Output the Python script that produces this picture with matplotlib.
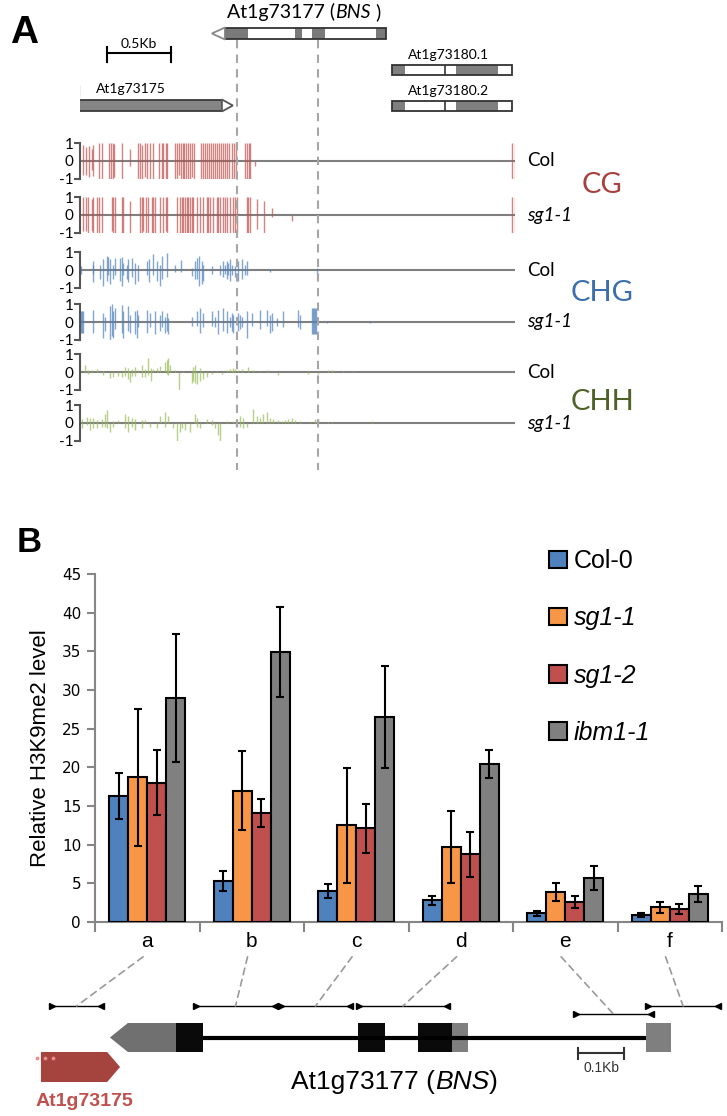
import matplotlib
matplotlib.use("Agg")
import matplotlib.pyplot as plt
from matplotlib.patches import Rectangle, Polygon, Patch, ConnectionPatch

W, H = 727, 1116

# ---------------- panel A : gene models (bp) ----------------
bns_span = (1133, 2391)
bns_tip = 1031
bns_dark = [(1133, 1313), (1680, 1734), (1813, 1914), (2313, 2391)]
g175_span = (-8, 1109)
g175_tip = 1195
g180_span = (2438, 3375)
g180_dark = [(2438, 2539), (2938, 3266)]
g180_mark = (2844, 2859)
g180_names = ["At1g73180.1", "At1g73180.2"]
dashed_bp = [1227, 1859]
scale_a = (211, 711)

# ---------------- panel A : methylation tracks ----------------
cg_col_pos = [26, 47, 68, 91, 104, 151, 169, 229, 242, 255, 268, 326, 391, 456, 469, 487, 508, 526, 547, 568,
	620, 638, 651, 672, 682, 742, 755, 771, 786, 802, 813, 828, 844, 859, 875, 891, 943, 958, 974, 990,
	1005, 1021, 1036, 1052, 1068, 1083, 1099, 1115, 1130, 1146, 1167, 1185, 1203, 1219, 1289, 1302, 1318, 1328, 1367,
	3380, 3398]
cg_col_up = [0.9, 0.8, 0.85, 0.7, 0.9, 1, 1, 1, 1, 1, 0.95, 1, 0.7, 1, 1, 0.9, 1, 1, 1, 1,
	1, 1, 1, 1, 1, 1, 1, 1, 1, 1, 1, 1, 1, 1, 1, 1, 1, 1, 1, 1,
	1, 1, 1, 1, 1, 1, 1, 1, 1, 1, 1, 1, 1, 1, 1, 1, 1, 1, 0.0,
	1, 1]
cg_col_dn = [0.8, 0.8, 0.9, 0.5, 0.85, 1, 1, 1, 1, 1, 0.9, 1, 0.3, 1, 1, 1, 0.9, 1, 1, 1,
	1, 1, 1, 1, 1, 1, 1, 0.8, 1, 1, 1, 1, 1, 1, 0.9, 1, 1, 1, 1, 1,
	1, 1, 1, 1, 1, 1, 1, 1, 1, 1, 1, 1, 1, 1, 1, 1, 1, 1, 0.3,
	1, 1]

cg_sg_pos = [26, 47, 65, 91, 104, 130, 151, 169, 248, 261, 274, 326, 339, 391, 469, 482, 495, 516, 534, 560,
	573, 586, 625, 651, 672, 682, 755, 781, 794, 807, 820, 833, 846, 859, 872, 885, 911, 937, 963, 990,
	1003, 1016, 1042, 1068, 1081, 1094, 1120, 1133, 1146, 1172, 1198, 1211, 1224, 1302, 1315, 1328, 1380, 1438, 1497, 1659,
	3380, 3398]
cg_sg_up = [1, 1, 1, 0.9, 1, 1, 1, 1, 1, 1, 1, 1, 1, 0.8, 1, 1, 1, 1, 1, 1,
	1, 1, 1, 1, 1, 1, 1, 1, 1, 1, 1, 1, 1, 1, 1, 1, 1, 1, 1, 1,
	1, 1, 1, 1, 1, 1, 1, 1, 1, 1, 1, 1, 1, 1, 1, 1, 0.9, 0.8, 0.4, 0.0,
	1, 1]
cg_sg_dn = [0.9, 0.9, 1, 0.9, 1, 1, 1, 1, 0.9, 1, 1, 1, 1, 1, 1, 1, 0.9, 1, 1, 1,
	1, 1, 1, 1, 0.9, 1, 1, 1, 1, 1, 1, 1, 1, 1, 1, 1, 1, 1, 1, 1,
	1, 1, 1, 1, 1, 1, 1, 1, 1, 1, 1, 1, 1, 1, 1, 1, 0.8, 1, 0.1, 0.35,
	1, 1]

chg_col_pos = [5, 99, 104, 156, 177, 208, 221, 234, 255, 273, 313, 326, 339, 365, 378, 404, 430, 456, 526, 542,
	573, 599, 625, 638, 677, 742, 786, 872, 898, 911, 932, 950, 964, 1029, 1094, 1120, 1133, 1146, 1159, 1172,
	1185, 1211, 1237, 1263, 1289, 1302, 1484, 1849]
chg_col_up = [0.2, 0.3, 0.5, 0.3, 0.6, 0.8, 0.75, 0.6, 0.3, 0.7, 0.7, 0.75, 0.4, 0.3, 0.6, 0.7, 0.4, 0.3, 0.5, 0.6,
	0.9, 0.5, 0.3, 0.8, 0.95, 0.3, 0.55, 0.1, 0.5, 0.7, 0.8, 0.5, 0.3, 0.2, 0.3, 0.5, 0.3, 0.5, 0.4, 0.6,
	0.3, 0.2, 0.5, 0.6, 0.3, 0.5, 0.05, 0.1]
chg_col_dn = [0.2, 0.7, 0.2, 0.5, 0.9, 0.6, 0.3, 0.8, 0.5, 0.3, 0.6, 0.9, 0.3, 0.5, 0.7, 0.4, 0.8, 0.6, 0.3, 0.7,
	0.3, 0.6, 0.9, 0.5, 0.4, 0.1, 0.1, 0.35, 0.5, 0.5, 0.9, 0.8, 0.6, 0.2, 0.3, 0.4, 0.2, 0.5, 0.3, 0.6,
	0.3, 0.4, 0.6, 0.5, 0.3, 0.3, 0.1, 0.2]

chg_sg_pos = [0, 8, 16, 24, 104, 177, 195, 234, 247, 260, 273, 326, 339, 378, 391, 430, 443, 456, 526, 547,
	586, 625, 638, 664, 677, 690, 872, 911, 937, 964, 1029, 1055, 1081, 1120, 1146, 1172, 1185, 1198, 1237, 1250,
	1263, 1302, 1341, 1406, 1458, 1484, 1497, 1536, 1588, 1706, 1719, 1810, 1818, 1826, 1833, 1841, 1927, 2266]
chg_sg_up = [0.6, 0.6, 0.6, 0.6, 0.7, 0.5, 0.3, 0.9, 1.0, 0.6, 0.8, 0.95, 0.6, 0.9, 0.4, 0.6, 0.7, 0.4, 0.7, 0.5,
	0.6, 0.4, 0.6, 0.3, 0.5, 0.2, 0.3, 0.6, 0.8, 0.5, 0.6, 0.3, 0.7, 0.8, 0.6, 0.3, 0.5, 0.4, 0.5, 0.4,
	0.3, 0.6, 0.5, 0.7, 0.7, 0.4, 0.5, 0.2, 0.6, 0.7, 0.4, 0.8, 0.8, 0.8, 0.8, 0.8, 0.05, 0.05]
chg_sg_dn = [0.6, 0.6, 0.6, 0.6, 0.6, 0.9, 0.5, 1.0, 0.8, 0.9, 0.4, 0.6, 0.9, 0.5, 0.6, 0.7, 0.9, 0.3, 0.6, 0.3,
	0.7, 0.5, 0.3, 0.6, 0.5, 0.7, 0.2, 0.2, 0.6, 0.3, 0.2, 0.3, 0.7, 0.5, 0.6, 0.3, 0.5, 0.6, 0.5, 0.4,
	0.3, 0.9, 0.2, 0.4, 0.2, 0.6, 0.5, 0.2, 0.3, 0.3, 0.4, 0.7, 0.7, 0.7, 0.7, 0.7, 0.05, 0.05]

chh_col_pos = [39, 65, 91, 130, 182, 234, 260, 299, 326, 352, 378, 391, 404, 430, 456, 482, 508, 534, 552, 573,
	599, 625, 664, 677, 690, 703, 742, 776, 807, 872, 885, 898, 911, 937, 964, 990, 1029, 1068, 1107, 1146,
	1172, 1185, 1198, 1211, 1237, 1263, 1315, 1354, 1406, 1458, 1550, 1784, 1862, 1940, 1966, 2057, 2136]
chh_col_up = [0.4, 0.1, 0.1, 0.15, 0.05, 0, 0, 0, 0, 0.3, 0.2, 0, 0.15, 0.3, 0.1, 0.4, 0.15, 0.8, 0.2, 0.15,
	0.25, 0.35, 0.55, 0.7, 0.8, 0.4, 0.1, 0, 0.05, 0, 0.3, 0.4, 0, 0.2, 0, 0, 0, 0.05, 0, 0.1,
	0.15, 0.05, 0.2, 0.15, 0.1, 0.15, 0.3, 0.1, 0.05, 0.1, 0, 0.05, 0, 0.1, 0.1, 0.05, 0.05]
chh_col_dn = [0, 0.1, 0, 0, 0.15, 0.35, 0.3, 0.2, 0.3, 0.2, 0.4, 0.55, 0.25, 0.2, 0, 0.3, 0.3, 0.15, 0.5, 0,
	0, 0, 0, 0.1, 0.15, 0, 0, 1.0, 0, 0.6, 0.5, 0.6, 0.7, 0.5, 0.4, 0.3, 0.1, 0, 0.1, 0,
	0, 0, 0, 0, 0, 0, 0, 0, 0, 0, 0.15, 0.1, 0.1, 0, 0, 0, 0]

chh_sg_pos = [13, 52, 78, 104, 130, 169, 195, 214, 234, 260, 299, 352, 378, 404, 430, 482, 508, 547, 599, 625,
	664, 690, 729, 755, 781, 794, 820, 859, 898, 911, 937, 990, 1029, 1055, 1081, 1094, 1146, 1198, 1250, 1276,
	1302, 1354, 1380, 1406, 1432, 1458, 1484, 1510, 1550, 1576, 1602, 1628, 1654, 1680, 1719, 1797, 1836, 1862, 1940, 1966,
	2279]
chh_sg_up = [0.2, 0.35, 0.3, 0.3, 0.15, 0.2, 0.5, 0.75, 0, 0.1, 0.15, 0.5, 0.4, 0.3, 0.2, 0.15, 0.15, 0, 0, 0.4,
	0.6, 0.4, 0, 0, 0, 0, 0, 0, 0.5, 0.3, 0, 0.2, 0.15, 0, 0, 0, 0.1, 0.1, 0.4, 0.3,
	0, 0.8, 0.4, 0.3, 0.5, 0.6, 0.3, 0.2, 0.15, 0.1, 0.15, 0.2, 0.3, 0.15, 0.1, 0.05, 0.2, 0.25, 0.05, 0.05,
	0.1]
chh_sg_dn = [0.3, 0.1, 0.4, 0.3, 0.3, 0.2, 0.2, 0.3, 0.5, 0.2, 0, 0.3, 0.5, 0.2, 0.4, 0.3, 0, 0.2, 0.3, 0,
	0.2, 0, 0.3, 1.0, 0.5, 0.3, 0.4, 0.5, 0, 0.2, 0.3, 0, 0.1, 0.3, 0.7, 1.0, 0, 0, 0.2, 0.3,
	0.2, 0, 0, 0, 0, 0, 0, 0, 0, 0, 0, 0, 0, 0, 0, 0, 0, 0, 0, 0,
	0]

track_names = ["Col", "sg1-1", "Col", "sg1-1", "Col", "sg1-1"]
contexts = ["CG", "CHG", "CHH"]

# ---------------- panel B : ChIP bars ----------------
regions = ["a", "b", "c", "d", "e", "f"]
genotypes = ["Col-0", "sg1-1", "sg1-2", "ibm1-1"]
col0 = [16.3, 5.3, 4.0, 2.8, 1.1, 0.9]
col0_err = [3.0, 1.3, 0.95, 0.55, 0.3, 0.2]
sg11 = [18.7, 17.0, 12.5, 9.7, 3.9, 1.9]
sg11_err = [8.9, 5.05, 7.4, 4.7, 1.15, 0.7]
sg12 = [18.0, 14.1, 12.1, 8.75, 2.55, 1.65]
sg12_err = [4.2, 1.85, 3.2, 2.9, 0.8, 0.63]
ibm11 = [29.0, 34.9, 26.5, 20.4, 5.7, 3.6]
ibm11_err = [8.3, 5.8, 6.6, 1.8, 1.5, 1.05]

# ---------------- panel B : BNS gene model (bp) ----------------
utr5 = (239, 278, 383)
exons = [(383, 441), (778, 837), (909, 983)]
utr_boxes = [(983, 1017), (1404, 1459)]
intron_span = (441, 1404)
g175_b = (89, 233, 261)
red_dots = [80, 98, 115]
primers = [(113, 220), (426, 598), (611, 761), (780, 972), (1252, 1415), (1409, 1561)]
scale_b = (1257, 1357)

bar_colors = ["#4f81bd", "#f79646", "#c0504d", "#808080"]
cg_c, chg_c, chh_c = "#c0504d", "#4f81bd", "#9bbb59"

fig = plt.figure(figsize=(W / 100, H / 100), dpi=100)

def px_axes(x0, y0, x1, y1, **kw):
	return fig.add_axes([x0 / W, 1 - y1 / H, (x1 - x0) / W, (y1 - y0) / H], **kw)

def rich_text(ax, x, y, parts, **kw):
	# parts: list of (string, style); pieces are chained left to right
	t = ax.text(x, y, parts[0][0], style=parts[0][1], ha="left", va="bottom", **kw)
	pieces = [t]
	for s, st in parts[1:]:
		t = ax.annotate(s, xycoords=t, xy=(1, 0), va="bottom", ha="left", style=st, **kw)
		pieces.append(t)
	return pieces

# ---- panel A overlay (x in bp, y in pixels) ----
axA = px_axes(80, 0, 515, 480, zorder=3)
axA.set_xlim(0, 3400)
axA.set_ylim(480, 0)
axA.axis("off")

# BNS gene
axA.add_patch(Rectangle((bns_span[0], 28), bns_span[1] - bns_span[0], 11, fc="white", ec="none"))
for s, e in bns_dark:
	axA.add_patch(Rectangle((s, 28), e - s, 11, fc="#7a7a7a", ec="none"))
axA.add_patch(Rectangle((bns_span[0], 28), bns_span[1] - bns_span[0], 11, fc="none", ec="#333333", lw=1.3))
axA.add_patch(Polygon([(bns_span[0], 27.5), (bns_tip, 33.5), (bns_span[0], 39.5)], closed=True, fc="white", ec="#888888", lw=1.3))
# At1g73175
axA.add_patch(Rectangle((g175_span[0], 100), g175_span[1] - g175_span[0], 11, fc="#858585", ec="#3a3a3a", lw=1.3))
axA.add_patch(Polygon([(g175_span[1], 99.5), (g175_tip, 105.5), (g175_span[1], 111.5)], closed=True, fc="white", ec="#555555", lw=1.3))
axA.plot([g175_span[0], g175_span[0]], [86, 96], color="#aaaaaa", lw=1)
axA.text((g175_span[0] + g175_span[1]) / 2 - 150, 89, "At1g73175", ha="center", va="center", fontsize=10, family="Lato")
# At1g73180 transcripts
for name, y in zip(g180_names, [65, 101]):
	axA.add_patch(Rectangle((g180_span[0], y), g180_span[1] - g180_span[0], 10, fc="white", ec="none"))
	for s, e in g180_dark:
		axA.add_patch(Rectangle((s, y), e - s, 10, fc="#7f7f7f", ec="none"))
	axA.add_patch(Rectangle((g180_mark[0], y), g180_mark[1] - g180_mark[0], 10, fc="#555555", ec="none"))
	axA.add_patch(Rectangle((g180_span[0], y), g180_span[1] - g180_span[0], 10, fc="none", ec="#333333", lw=1.3))
	axA.text((g180_span[0] + g180_span[1]) / 2 - 30, y - 10, name, ha="center", va="center", fontsize=10, family="Lato")
# scale bar
axA.plot(scale_a, [53, 53], color="black", lw=1.5)
for x in scale_a:
	axA.plot([x, x], [47, 62], color="black", lw=1.5)
axA.text(sum(scale_a) / 2, 44, "0.5Kb", ha="center", va="center", fontsize=10, family="Lato")
# gene name
rich_text(axA, 1150, 21, [("At1g73177 (", "normal"), ("BNS", "italic"), (" )", "normal")], fontsize=14, family="Lato")
# dashed guides
for x in dashed_bp:
	axA.plot([x, x], [40, 470], color="#a6a6a6", ls=(0, (4, 3)), lw=1.5)

# ---- methylation tracks ----
tracks = [
	(cg_col_pos, cg_col_up, cg_col_dn, cg_c),
	(cg_sg_pos, cg_sg_up, cg_sg_dn, cg_c),
	(chg_col_pos, chg_col_up, chg_col_dn, chg_c),
	(chg_sg_pos, chg_sg_up, chg_sg_dn, chg_c),
	(chh_col_pos, chh_col_up, chh_col_dn, chh_c),
	(chh_sg_pos, chh_sg_up, chh_sg_dn, chh_c),
]
baselines = [161, 215, 270, 322, 372, 423]
for i, (pos, up, dn, c) in enumerate(tracks):
	base = baselines[i]
	ax = px_axes(80, base - 18.4, 515, base + 18.4, zorder=2)
	ax.patch.set_alpha(0)
	ax.set_xlim(0, 3400)
	ax.set_ylim(-1.05, 1.05)
	ax.vlines(pos, [-d for d in dn], up, color=c, lw=1, alpha=0.7)
	ax.axhline(0, color="#7f7f7f", lw=1.5, zorder=0)
	for s in ["top", "right", "bottom"]:
		ax.spines[s].set_visible(False)
	ax.spines["left"].set_bounds(-1, 1)
	ax.spines["left"].set_color("#555555")
	ax.spines["left"].set_linewidth(1.5)
	ax.set_xticks([])
	ax.set_yticks([-1, 0, 1])
	ax.set_yticklabels(["-1", "0", "1"], fontsize=11, family="Lato")
	ax.tick_params(axis="y", length=4, width=1.5, color="#555555", pad=0.5)
	ax.yaxis.get_major_ticks()[1].tick1line.set_visible(False)
	# sample label
	axA.text(3492, base, track_names[i], ha="left", va="center", fontsize=13.5, family="Lato",
		style="italic" if track_names[i] != "Col" else "normal")

ctx_colors = ["#a9403d", "#3a6ead", "#4f6228"]
ctx_y = [185, 293, 402]
for name, c, y in zip(contexts, ctx_colors, ctx_y):
	axA.text(4080, y, name, ha="center", va="center", fontsize=21, family="Lato", color=c)

fig.text(10 / W, 1 - 43 / H, "A", fontsize=28, weight="bold", family="Liberation Sans", va="baseline")
fig.text(17 / W, 1 - 552 / H, "B", fontsize=25, weight="bold", family="Liberation Sans", va="baseline")

# ---- panel B bar chart ----
axB = px_axes(95, 574, 722, 922)
centers = [i + 0.5 for i in range(len(regions))]
w = 0.182
series = [(col0, col0_err), (sg11, sg11_err), (sg12, sg12_err), (ibm11, ibm11_err)]
for j, (vals, err) in enumerate(series):
	xs = [c + (j - 1.5) * w for c in centers]
	axB.bar(xs, vals, w, color=bar_colors[j], edgecolor="black", linewidth=1.5, yerr=err,
		capsize=3.2, error_kw=dict(elinewidth=1.5, capthick=1.5, ecolor="black"), zorder=3)
axB.set_xlim(0, 6)
axB.set_ylim(0, 45)
axB.set_yticks(range(0, 46, 5))
axB.set_yticklabels([str(v) for v in range(0, 46, 5)], fontsize=11, family="DejaVu Sans")
axB.set_xticks(range(7))
axB.set_xticklabels([])
axB.set_xticks(centers, minor=True)
axB.set_xticklabels(regions, minor=True, fontsize=15, family="Liberation Sans")
axB.tick_params(axis="x", which="major", length=7, width=1.5, color="#868686")
axB.tick_params(axis="x", which="minor", length=0, pad=7)
axB.tick_params(axis="y", length=6, width=1.5, color="#868686", pad=4)
for s in ["top", "right"]:
	axB.spines[s].set_visible(False)
for s in ["left", "bottom"]:
	axB.spines[s].set_color("#868686")
	axB.spines[s].set_linewidth(1.5)
axB.set_ylabel("Relative H3K9me2 level", fontsize=16, family="Liberation Sans", labelpad=8)

handles = [Patch(fc=c, ec="black", lw=1.5) for c in bar_colors]
leg = fig.legend(handles, genotypes, loc="upper left", bbox_to_anchor=(549 / W, 1 - 549 / H), frameon=False,
	handlelength=0.7, handleheight=0.7, labelspacing=1.33, handletextpad=0.3,
	borderpad=0, borderaxespad=0, prop=dict(family="Liberation Sans", size=18))
for t in leg.get_texts()[1:]:
	t.set_style("italic")

# ---- BNS gene model below the bars (x in bp, y in pixels) ----
axG = px_axes(0, 940, 727, 1116)
axG.set_xlim(0, 727 / 0.46)
axG.set_ylim(1116, 940)
axG.axis("off")
axG.plot(intron_span, [1037.5, 1037.5], color="black", lw=3, solid_capstyle="butt")
axG.add_patch(Polygon([(utr5[0], 1037.5), (utr5[1], 1023), (utr5[2], 1023), (utr5[2], 1052), (utr5[1], 1052)],
	closed=True, fc="#707070", ec="none"))
for s, e in exons:
	axG.add_patch(Rectangle((s, 1023), e - s, 29, fc="#0a0a0a", ec="none"))
for s, e in utr_boxes:
	axG.add_patch(Rectangle((s, 1023), e - s, 29, fc="#7f7f7f", ec="none"))
axG.add_patch(Polygon([(g175_b[0], 1052), (g175_b[1], 1052), (g175_b[2], 1067), (g175_b[1], 1082), (g175_b[0], 1082)],
	closed=True, fc="#a5433f", ec="none"))
axG.scatter(red_dots, [1058] * len(red_dots), s=3, color="#e88f8f", zorder=3)
axG.text(183, 1101, "At1g73175", ha="center", va="center", fontsize=14, weight="bold", color="#c0504d", family="Liberation Sans")
rich_text(axG, 632, 1094, [("At1g73177 (", "normal"), ("BNS", "italic"), (")", "normal")], fontsize=19, family="Liberation Sans")
# primer amplicons
primer_y = [1006, 1006, 1006, 1006, 1014, 1006]
for (s, e), y in zip(primers, primer_y):
	axG.plot([s, e], [y, y], color="black", lw=1)
	axG.plot([s], [y], marker=">", color="black", ms=5)
	axG.plot([e], [y], marker="<", color="black", ms=5)
# 0.1Kb scale
axG.plot(scale_b, [1053, 1053], color="#333333", lw=1.5)
for x in scale_b:
	axG.plot([x, x], [1048, 1059], color="#333333", lw=1.5)
axG.text(sum(scale_b) / 2, 1068, "0.1Kb", ha="center", va="center", fontsize=10, color="#333333", family="Liberation Sans")
# dashed connectors from region labels to amplicons
for c, (s, e), y in zip(centers, primers, primer_y):
	con = ConnectionPatch(xyA=(c - 0.04, -4.5), coordsA=axB.transData, xyB=((s + e) / 2, y), coordsB=axG.transData,
		color="#999999", lw=1.2, ls=(0, (4, 3)))
	fig.add_artist(con)

plt.savefig("out.png", dpi=100)
